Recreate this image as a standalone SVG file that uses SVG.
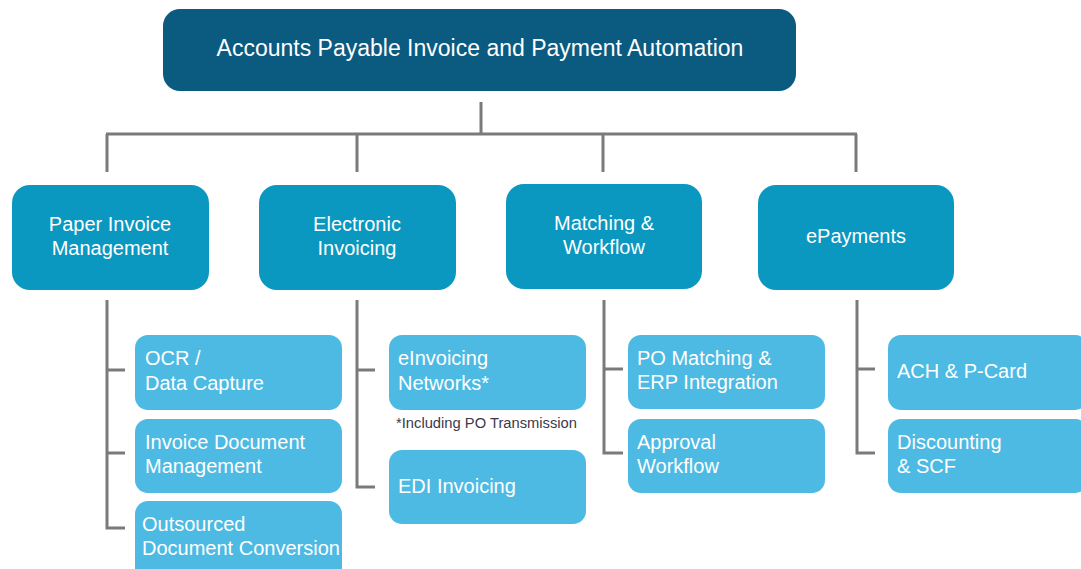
<svg xmlns="http://www.w3.org/2000/svg" width="1081" height="569" viewBox="0 0 1081 569">
<style>
  .root { fill: #0B5A7F; }
  .cat { fill: #0A97C0; }
  .sub { fill: #4DBAE3; }
  text { font-family: "Liberation Sans", Arial, sans-serif; fill: #ffffff; }
  .t-root { font-size: 23px; text-anchor: middle; }
  .t-cat { font-size: 20px; text-anchor: middle; }
  .t-sub { font-size: 20px; }
  .note { font-size: 14px; fill: #3a3a4a; }
  .conn { fill: none; stroke: #7a7a7a; stroke-width: 3; }
</style>
<rect width="1081" height="569" fill="#ffffff"/>

<g id="connectors">
  <path class="conn" d="M481 102 V134 M106 134 H857 M107 134 V172 M357 134 V172 M603 134 V172 M856 134 V172"/>
  <path class="conn" d="M107 300 V528 H125 M107 370 H125 M107 453 H125"/>
  <path class="conn" d="M357 300 V487 H375 M357 370 H375"/>
  <path class="conn" d="M604 300 V453 H623 M604 369 H623"/>
  <path class="conn" d="M857 300 V453 H875 M857 369 H875"/>
</g>

<g id="root">
  <rect class="root" x="163" y="9" width="633" height="82" rx="17"/>
  <text class="t-root" x="480" y="56">Accounts Payable Invoice and Payment Automation</text>
</g>

<g id="paper-invoice-management">
  <rect class="cat" x="12" y="185" width="197" height="105" rx="18"/>
  <text class="t-cat" x="110" y="231">Paper Invoice</text>
  <text class="t-cat" x="110" y="255">Management</text>
</g>
<g id="electronic-invoicing">
  <rect class="cat" x="259" y="185" width="197" height="105" rx="18"/>
  <text class="t-cat" x="357" y="231">Electronic</text>
  <text class="t-cat" x="357" y="255">Invoicing</text>
</g>
<g id="matching-workflow">
  <rect class="cat" x="506" y="184" width="196" height="105" rx="18"/>
  <text class="t-cat" x="604" y="230">Matching &amp;</text>
  <text class="t-cat" x="604" y="254">Workflow</text>
</g>
<g id="epayments">
  <rect class="cat" x="758" y="185" width="196" height="105" rx="18"/>
  <text class="t-cat" x="856" y="243">ePayments</text>
</g>

<g id="ocr-data-capture">
  <rect class="sub" x="135" y="335" width="207" height="75" rx="13"/>
  <text class="t-sub" x="145" y="365">OCR /</text>
  <text class="t-sub" x="145" y="390">Data Capture</text>
</g>
<g id="invoice-document-management">
  <rect class="sub" x="135" y="419" width="207" height="74" rx="13"/>
  <text class="t-sub" x="145" y="449">Invoice Document</text>
  <text class="t-sub" x="145" y="473">Management</text>
</g>
<g id="outsourced-document-conversion">
  <rect class="sub" x="135" y="501" width="207" height="80" rx="13"/>
  <text class="t-sub" x="142" y="531">Outsourced</text>
  <text class="t-sub" x="142" y="555">Document Conversion</text>
</g>

<g id="einvoicing-networks">
  <rect class="sub" x="389" y="335" width="197" height="75" rx="13"/>
  <text class="t-sub" x="398" y="365">eInvoicing</text>
  <text class="t-sub" x="398" y="390">Networks*</text>
  <text class="note" x="396" y="428" textLength="181" lengthAdjust="spacingAndGlyphs">*Including PO Transmission</text>
</g>
<g id="edi-invoicing">
  <rect class="sub" x="389" y="450" width="197" height="74" rx="13"/>
  <text class="t-sub" x="398" y="493">EDI Invoicing</text>
</g>

<g id="po-matching-erp">
  <rect class="sub" x="628" y="335" width="197" height="74" rx="13"/>
  <text class="t-sub" x="637" y="365">PO Matching &amp;</text>
  <text class="t-sub" x="637" y="389">ERP Integration</text>
</g>
<g id="approval-workflow">
  <rect class="sub" x="628" y="419" width="197" height="74" rx="13"/>
  <text class="t-sub" x="637" y="449">Approval</text>
  <text class="t-sub" x="637" y="473">Workflow</text>
</g>

<g id="ach-pcard">
  <rect class="sub" x="888" y="335" width="200" height="75" rx="13"/>
  <text class="t-sub" x="897" y="378">ACH &amp; P-Card</text>
</g>
<g id="discounting-scf">
  <rect class="sub" x="888" y="419" width="200" height="74" rx="13"/>
  <text class="t-sub" x="897" y="449">Discounting</text>
  <text class="t-sub" x="897" y="473">&amp; SCF</text>
</g>
</svg>
